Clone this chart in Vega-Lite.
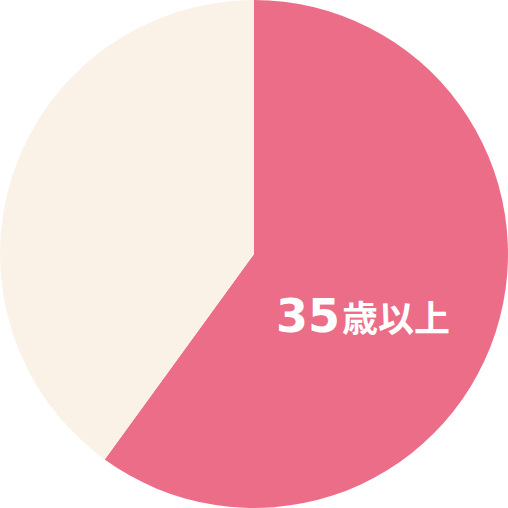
{
  "$schema": "https://vega.github.io/schema/vega-lite/v6.json",
  "width": 508,
  "height": 508,
  "autosize": {"type": "fit", "contains": "padding"},
  "padding": 0,
  "background": "white",
  "view": {"stroke": null},
  "data": {
    "values": [
      {"group": "35歳以上", "share": 60, "order": 1, "num": "35", "unit": "歳以上"},
      {"group": "35歳未満", "share": 40, "order": 2, "num": "", "unit": ""}
    ]
  },
  "encoding": {
    "theta": {"field": "share", "type": "quantitative", "stack": true},
    "order": {"field": "order", "type": "ordinal"}
  },
  "layer": [
    {
      "mark": {"type": "arc", "stroke": null},
      "encoding": {
        "color": {
          "field": "group",
          "type": "nominal",
          "scale": {"domain": ["35歳以上", "35歳未満"], "range": ["#EB6D88", "#FAF1E7"]},
          "legend": null
        }
      }
    },
    {
      "mark": {
        "type": "text",
        "radius": 90.4,
        "dy": 50,
        "align": "right",
        "baseline": "alphabetic",
        "font": "DejaVu Sans",
        "fontWeight": "bold",
        "fontSize": 46,
        "color": "white"
      },
      "encoding": {"text": {"field": "num"}}
    },
    {
      "mark": {
        "type": "text",
        "radius": 90.4,
        "dy": 50,
        "dx": 2,
        "align": "left",
        "baseline": "alphabetic",
        "font": "Noto Sans CJK JP",
        "fontWeight": "bold",
        "fontSize": 36,
        "color": "white"
      },
      "encoding": {"text": {"field": "unit"}}
    }
  ]
}
